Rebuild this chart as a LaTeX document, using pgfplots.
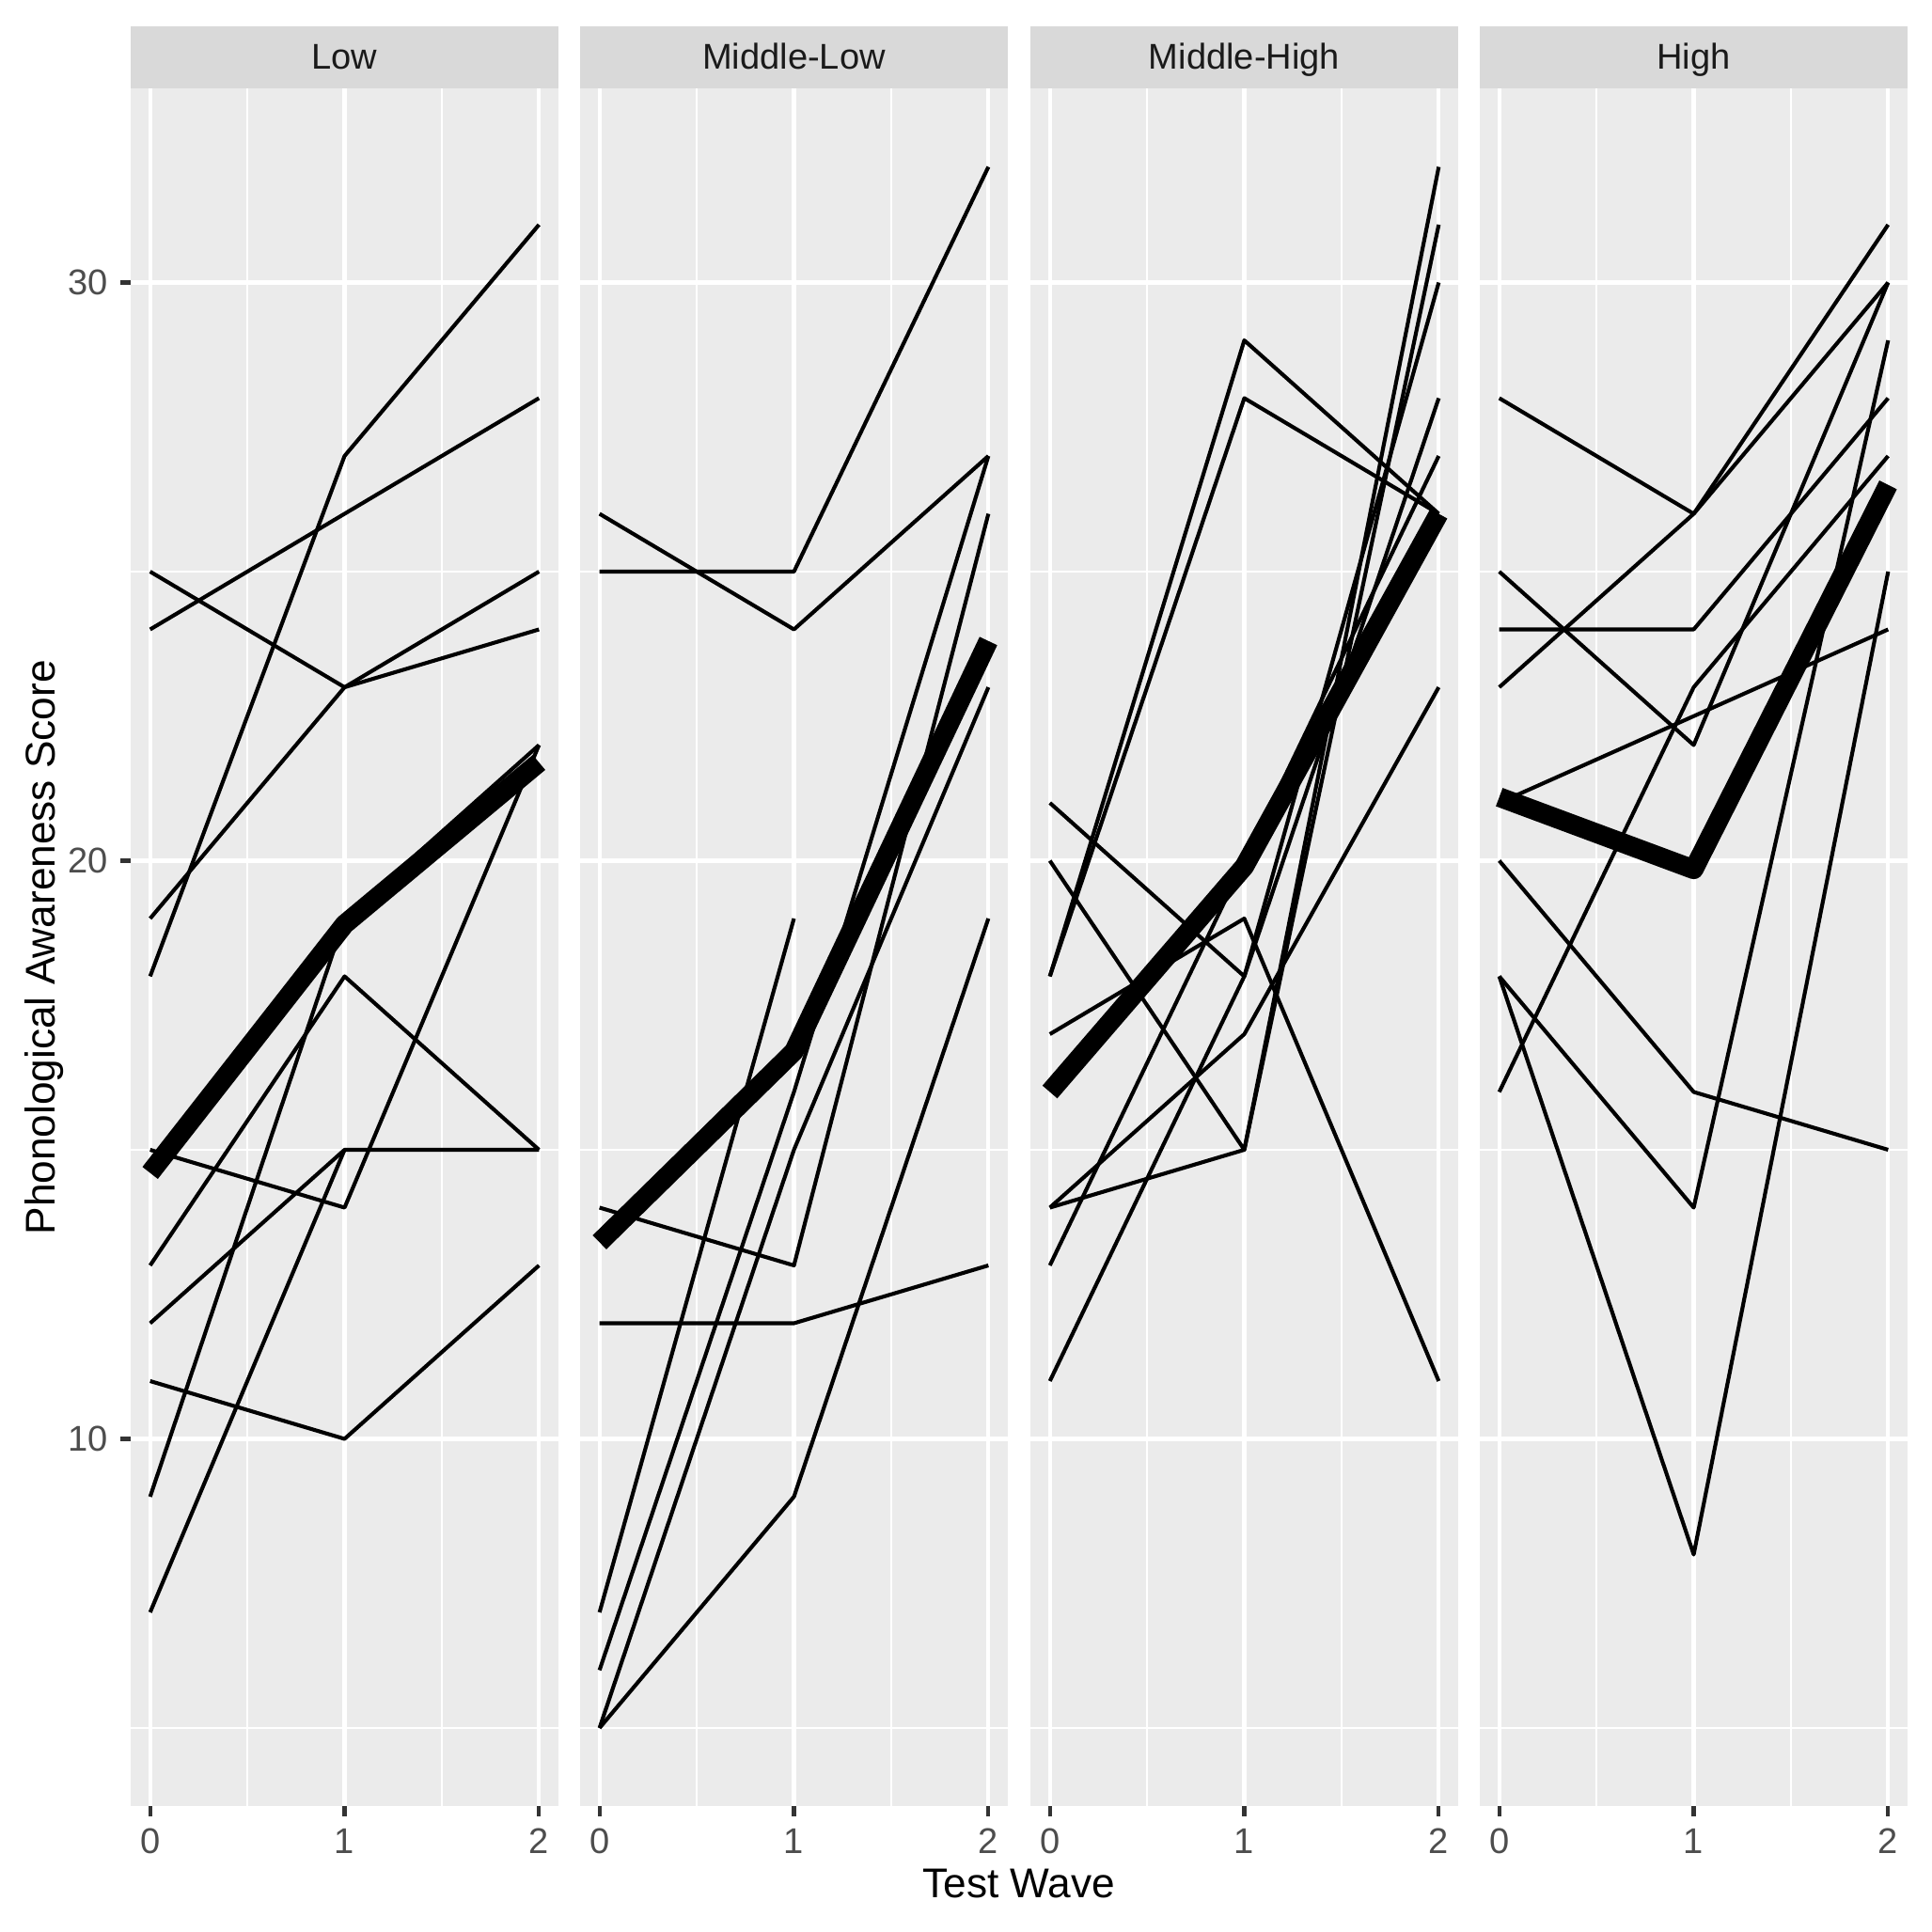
\documentclass[border=0pt]{standalone}
\usepackage{pgfplots}
\pgfplotsset{compat=1.18}
\usepackage{fontspec}
\setmainfont{Liberation Sans}
\definecolor{panelbg}{HTML}{EBEBEB}
\definecolor{stripbg}{HTML}{D9D9D9}
\definecolor{ticklab}{HTML}{4D4D4D}
\definecolor{tickcol}{HTML}{333333}
\definecolor{striptxt}{HTML}{1A1A1A}
\pgfplotsset{
  panel/.style={
    scale only axis,
    width=118.3pt, height=474.89pt,
    anchor=north west,
    xmin=-0.1, xmax=2.1, ymin=3.65, ymax=33.35,
    axis background/.style={fill=panelbg},
    axis line style={draw=none},
    xtick={0,1,2}, ytick={10,20,30},
    minor xtick={0.5,1.5}, minor ytick={5,15,25},
    minor tick length=0pt,
    grid=both,
    major grid style={white, line width=1.07pt},
    minor grid style={white, line width=0.53pt},
    tick pos=left,
    tick align=outside,
    major tick length=2.75pt,
    tick style={tickcol, line width=1.07pt},
    /pgf/number format/assume math mode=true,
    tick label style={font=\fontsize{9.9}{11}\selectfont, text=ticklab},
    every axis title/.style={at={(0.5,1)}, anchor=south, fill=stripbg,
      minimum width=118.3pt, minimum height=17.03pt, inner sep=0pt,
      text height=8pt, text depth=1.64pt,
      font=\fontsize{9.9}{11}\selectfont, text=striptxt},
    cycle list={{black, solid, mark=none}},
    every axis plot/.append style={black, solid, line width=1.07pt, line join=round, line cap=butt, mark=none},
    mean/.style={black, solid, line width=5.4pt},
  },
  noy/.style={yticklabels={}, ytick style={draw=none}},
}
\begin{document}
\begin{tikzpicture}
\useasboundingbox (0,0) rectangle (534.3pt,-534.3pt);
% Low
\begin{axis}[panel, at={(36.14pt,-24.57pt)}, title={Low}]
\addplot coordinates {(0,18) (1,27) (2,31)};
\addplot coordinates {(0,24) (1,26) (2,28)};
\addplot coordinates {(0,25) (1,23) (2,25)};
\addplot coordinates {(0,19) (1,23) (2,24)};
\addplot coordinates {(0,13) (1,18) (2,15)};
\addplot coordinates {(0,15) (1,14) (2,22)};
\addplot coordinates {(0,12) (1,15) (2,15)};
\addplot coordinates {(0,11) (1,10) (2,13)};
\addplot coordinates {(0,9) (1,19) (2,22)};
\addplot coordinates {(0,7) (1,15)};
\addplot[mean] coordinates {(0,14.6) (1,18.9) (2,21.7)};
\end{axis}
% Middle-Low
\begin{axis}[panel, noy, at={(160.42pt,-24.57pt)}, title={Middle-Low}]
\addplot coordinates {(0,25) (1,25) (2,32)};
\addplot coordinates {(0,26) (1,24) (2,27)};
\addplot coordinates {(0,14) (1,13) (2,26)};
\addplot coordinates {(0,12) (1,12) (2,13)};
\addplot coordinates {(0,5) (1,9) (2,19)};
\addplot coordinates {(0,5) (1,15) (2,23)};
\addplot coordinates {(0,6) (1,16) (2,27)};
\addplot coordinates {(0,7) (1,19)};
\addplot[mean] coordinates {(0,13.4) (1,16.7) (2,23.8)};
\end{axis}
% Middle-High
\begin{axis}[panel, noy, at={(284.96pt,-24.57pt)}, title={Middle-High}]
\addplot coordinates {(0,18) (1,29) (2,26)};
\addplot coordinates {(0,18) (1,28) (2,26)};
\addplot coordinates {(0,17) (1,19) (2,11)};
\addplot coordinates {(0,14) (1,17) (2,23)};
\addplot coordinates {(0,21) (1,18) (2,30)};
\addplot coordinates {(0,11) (1,18) (2,28)};
\addplot coordinates {(0,20) (1,15) (2,32)};
\addplot coordinates {(0,14) (1,15) (2,31)};
\addplot coordinates {(0,13) (1,20) (2,27)};
\addplot[mean] coordinates {(0,16.0) (1,19.9) (2,26.0)};
\end{axis}
% High
\begin{axis}[panel, noy, at={(409.24pt,-24.57pt)}, title={High}]
\addplot coordinates {(0,28) (1,26) (2,31)};
\addplot coordinates {(0,23) (1,26) (2,30)};
\addplot coordinates {(0,24) (1,24) (2,28)};
\addplot coordinates {(0,25) (1,22) (2,30)};
\addplot coordinates {(0,16) (1,23) (2,27)};
\addplot coordinates {(0,21) (2,24)};
\addplot coordinates {(0,20) (1,16) (2,15)};
\addplot coordinates {(0,18) (1,14) (2,29)};
\addplot coordinates {(0,18) (1,8) (2,25)};
\addplot[mean] coordinates {(0,21.1) (1,19.85) (2,26.5)};
\end{axis}
\node[anchor=base, font=\fontsize{11.5}{13}\selectfont] at (281.8pt,-524.9pt) {Test Wave};
\node[anchor=base, rotate=90, font=\fontsize{11.5}{13}\selectfont] at (15.3pt,-262pt) {Phonological Awareness Score};
\end{tikzpicture}
\end{document}
